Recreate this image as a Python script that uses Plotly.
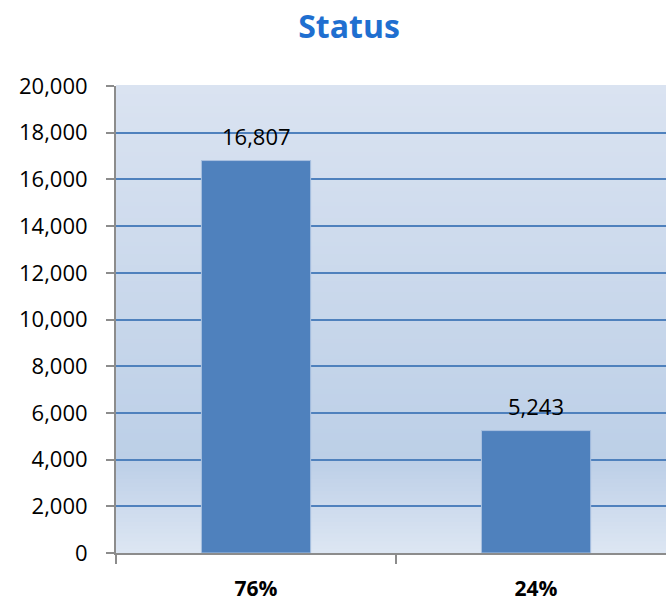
import plotly.graph_objects as go

categories = ["76%", "24%"]
counts = [16807, 5243]
y_ticks = list(range(0, 20001, 2000))


def mix(c1, c2, t):
    return "rgb({},{},{})".format(*[round(a + (b - a) * t) for a, b in zip(c1, c2)])


fig = go.Figure()

fig.add_trace(go.Bar(
    x=categories,
    y=counts,
    marker=dict(color="#4f81bd", line=dict(color="#a9c1e0", width=1)),
    hoverinfo="none",
))

# value labels above the bars
for c, v in zip(categories, counts):
    fig.add_annotation(x=c, y=v, text=f"{v:,}", showarrow=False,
                       yanchor="middle", yshift=25,
                       font=dict(family="Open Sans", size=22, color="#000000"))

# gradient backdrop of the plot area (excel-style), drawn as thin strips
stops = [(0.0, (221, 230, 243)), (0.2, (188, 207, 231)), (1.0, (218, 227, 241))]
n = 120
for i in range(n):
    t = (i + 0.5) / n
    for (p0, c0), (p1, c1) in zip(stops[:-1], stops[1:]):
        if p0 <= t <= p1:
            col = mix(c0, c1, (t - p0) / (p1 - p0))
            break
    fig.add_shape(type="rect", xref="paper", yref="paper",
                  x0=0, x1=1, y0=i / n, y1=(i + 1) / n + 0.002,
                  fillcolor=col, line=dict(width=0), layer="below")

fig.update_layout(
    width=666, height=604,
    margin=dict(l=116, r=0, t=86, b=51),
    paper_bgcolor="white",
    plot_bgcolor="rgba(0,0,0,0)",
    showlegend=False,
    bargap=0.61,
    title=dict(text="<b>Status</b>", x=0.524, xanchor="center", y=0.974, yanchor="top",
               font=dict(family="Open Sans", size=32, color="#1f6fd0")),
    xaxis=dict(
        range=[-0.5, 1.464],
        automargin=False,
        showline=True, linecolor="#8c8c8c", linewidth=2,
        ticks="outside", tickson="boundaries", ticklen=9, tickwidth=2, tickcolor="#8c8c8c",
        showgrid=False,
        tickfont=dict(family="Open Sans", size=21, color="#000000", weight="bold"),
        ticklabelstandoff=16,
    ),
    yaxis=dict(
        range=[0, 20000],
        automargin=False,
        tickvals=y_ticks,
        tickformat=",",
        showline=True, linecolor="#8c8c8c", linewidth=2,
        ticks="outside", ticklen=8, tickwidth=2, tickcolor="#8c8c8c",
        showgrid=True, gridcolor="#4f81bd", gridwidth=2,
        zeroline=False,
        tickfont=dict(family="Open Sans", size=22, color="#000000"),
        ticklabelstandoff=14,
    ),
)

# drop the page margin so the 666x604 figure fills the window exactly
fig.write_html("out.html",
               config={"displayModeBar": False},
               post_script="document.body.style.margin='0';document.body.style.overflow='hidden';")
